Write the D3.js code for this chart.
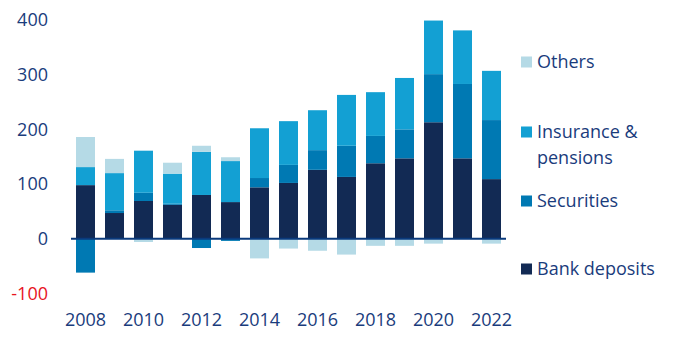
<!DOCTYPE html>
<html>
<head>
<meta charset="utf-8">
<script src="https://cdn.jsdelivr.net/npm/d3@7"></script>
<style>
  html, body { margin: 0; padding: 0; background: #fff; }
  svg { display: block; font-family: "Open Sans", "Noto Sans", sans-serif; }
</style>
</head>
<body>
<svg id="chart" width="679" height="337"></svg>
<script>
const years = [2008, 2009, 2010, 2011, 2012, 2013, 2014, 2015, 2016, 2017, 2018, 2019, 2020, 2021, 2022];
const bankDeposits = [98, 47, 69, 62, 80, 67, 94, 102, 126, 113, 138, 147, 213, 147, 109];
const securities   = [-62, 5, 15, 2, -17, -4, 17, 33, 36, 57, 50, 53, 88, 136, 108];
const insurance    = [33, 68, 77, 55, 79, 75, 91, 80, 73, 93, 80, 94, 98, 98, 90];
const others       = [55, 26, -6, 20, 11, 7, -36, -18, -22, -29, -13, -13, -9, 0, -9];
const yTicks = [-100, 0, 100, 200, 300, 400];
const xTickYears = [2008, 2010, 2012, 2014, 2016, 2018, 2020, 2022];

const seriesKeys = ["bank", "securities", "insurance", "others"];
const seriesLabels = {bank: ["Bank deposits"], securities: ["Securities"], insurance: ["Insurance &", "pensions"], others: ["Others"]};
const colors = {bank: "#122a54", securities: "#0079b3", insurance: "#13a0d3", others: "#b5dae6"};
const textColor = "#1a3c7c";

const table = years.map((y, i) => ({
  year: y, bank: bankDeposits[i], securities: securities[i], insurance: insurance[i], others: others[i]
}));

const svg = d3.select("#chart");

const x = d3.scaleBand().domain(years).range([71, 506]).paddingInner(0.345).paddingOuter(0.1725);
const y = d3.scaleLinear().domain([-100, 400]).range([293.4, 20]);

const stacked = d3.stack().keys(seriesKeys).offset(d3.stackOffsetDiverging)(table);

svg.append("g").selectAll("g").data(stacked).join("g")
  .attr("fill", d => colors[d.key])
  .selectAll("rect").data(d => d).join("rect")
  .attr("x", d => x(d.data.year))
  .attr("width", x.bandwidth())
  .attr("y", d => y(Math.max(d[0], d[1])))
  .attr("height", d => Math.abs(y(d[0]) - y(d[1])));

// zero line
svg.append("line")
  .attr("x1", 71).attr("x2", 506)
  .attr("y1", y(0)).attr("y2", y(0))
  .attr("stroke", "#0a3a7c").attr("stroke-width", 2);

// y axis labels
const yAxis = d3.axisLeft(y).tickValues(yTicks).tickSize(0).tickPadding(0).tickFormat(d => String(d));
const yg = svg.append("g").attr("transform", "translate(48,0)").call(yAxis);
yg.select(".domain").remove();
yg.selectAll("text")
  .attr("font-size", 18)
  .attr("font-family", "'Open Sans', sans-serif")
  .attr("fill", d => d < 0 ? "#e8141e" : textColor);

// x axis labels
const xAxis = d3.axisBottom(x).tickValues(xTickYears).tickSize(0).tickPadding(0);
const xg = svg.append("g").attr("transform", "translate(0,313)").call(xAxis);
xg.select(".domain").remove();
xg.selectAll("text")
  .attr("font-size", 18)
  .attr("font-family", "'Open Sans', sans-serif")
  .attr("fill", textColor);

// legend
const legendPos = {others: 62, insurance: 132, securities: 201, bank: 269};
const lg = svg.append("g");
seriesKeys.forEach(k => {
  const cy = legendPos[k];
  lg.append("rect").attr("x", 521).attr("y", cy - 5.5).attr("width", 11).attr("height", 11).attr("fill", colors[k]);
  seriesLabels[k].forEach((line, j) => {
    lg.append("text")
      .attr("x", 537).attr("y", cy + j * 26)
      .attr("dy", "0.36em")
      .attr("font-size", 18)
      .attr("fill", textColor)
      .text(line);
  });
});
</script>
</body>
</html>
